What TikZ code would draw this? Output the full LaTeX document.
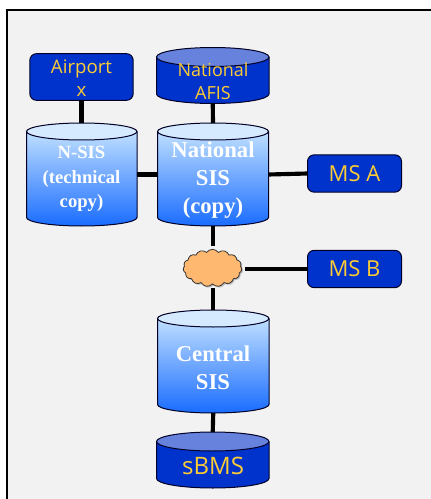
\documentclass[tikz,border=0pt]{standalone}
\usepackage{fontspec}
\setmainfont{Liberation Serif}
\newfontfamily\lab{Open Sans}
\usetikzlibrary{shapes.symbols,shadows}
\definecolor{panel}{HTML}{F2F2F2}
\definecolor{deep}{HTML}{0033CC}
\definecolor{deeptop}{HTML}{6682DC}
\definecolor{gold}{HTML}{FFCC33}
\definecolor{lighttop}{HTML}{D6EAFF}
\definecolor{gradtop}{HTML}{BFDFFF}
\definecolor{gradbot}{HTML}{1A6CFF}
\definecolor{puff}{HTML}{FFB870}
\tikzset{
  x=0.75pt,y=-0.75pt,
  link/.style={draw=black,line width=3.1pt},
  cylline/.style={draw=black!85!blue,line width=0.75pt},
  anchorbox/.style={inner sep=0pt,outer sep=0pt,minimum width=#1*0.75pt},
  blue box/.style={draw=black!85!blue,line width=0.75pt,fill=deep,rounded corners=5pt,inner sep=0pt,outer sep=0pt,text=gold,align=center,font=\lab},
  light text/.style={text=white,font=\bfseries,align=center,inner sep=0pt},
  dark text/.style={text=gold,font=\lab,align=center,inner sep=0pt},
}
% #1 name, #2 x-left, #3 x-right, #4 y-top of ellipse, #5 y-bottom end, #6 half ellipse height, #7 body style, #8 top colour
\newcommand{\cylinder}[8]{%
  \pgfmathsetmacro{\xm}{(#2+#3)/2}%
  \pgfmathsetmacro{\ys}{#4+#6}%
  \pgfmathsetmacro{\yb}{#5-#6}%
  \pgfmathsetmacro{\kx}{(#3-#2)/2*0.5523}%
  \pgfmathsetmacro{\ky}{#6*0.5523}%
  \path[#7] (#2,\ys) -- (#2,\yb)
    .. controls (#2,\yb+\ky) and (\xm-\kx,#5) .. (\xm,#5)
    .. controls (\xm+\kx,#5) and (#3,\yb+\ky) .. (#3,\yb)
    -- (#3,\ys) -- cycle;
  \draw[cylline] (#2,\ys) -- (#2,\yb)
    .. controls (#2,\yb+\ky) and (\xm-\kx,#5) .. (\xm,#5)
    .. controls (\xm+\kx,#5) and (#3,\yb+\ky) .. (#3,\yb)
    -- (#3,\ys);
  \draw[cylline,fill=#8] (#2,\ys)
    .. controls (#2,\ys-\ky) and (\xm-\kx,#4) .. (\xm,#4)
    .. controls (\xm+\kx,#4) and (#3,\ys-\ky) .. (#3,\ys)
    .. controls (#3,\ys+\ky) and (\xm+\kx,\ys+#6) .. (\xm,\ys+#6)
    .. controls (\xm-\kx,\ys+#6) and (#2,\ys+\ky) .. (#2,\ys) -- cycle;
  \pgfmathsetmacro{\w}{#3-#2}%
  \pgfmathsetmacro{\h}{#5-#4}%
  \pgfmathsetmacro{\ym}{(#4+#5)/2}%
  \node[inner sep=0pt,outer sep=0pt,minimum width=\w*0.75pt,minimum height=\h*0.75pt] (#1) at (\xm,\ym) {};%
}
\begin{document}
\begin{tikzpicture}
\useasboundingbox (0,0) rectangle (431,499);
\fill[white] (0,0) rectangle (431,499);
\draw[fill=panel,line width=0.8pt] (7,10) rectangle (440,510);

\tikzset{softbody/.style={top color=gradtop,bottom color=gradbot,middle color=gradtop!50!gradbot}}
\cylinder{nsis}{26.5}{137}{123}{226}{8.5}{softbody}{lighttop}
\cylinder{natsis}{157.5}{268.5}{123}{226}{8.5}{softbody}{lighttop}
\cylinder{censis}{157.5}{269}{310}{413}{8.5}{softbody}{lighttop}
\cylinder{afis}{156.5}{269}{47.5}{103.5}{9.5}{fill=deep}{deeptop}
\cylinder{sbms}{156.5}{269}{432}{488}{9.5}{fill=deep}{deeptop}

\node[blue box,minimum width=77.5pt,minimum height=35pt] (airport) at (81.5,77) {};
\node[blue box,minimum width=70.5pt,minimum height=28pt,font=\lab\fontsize{16.5}{20}\selectfont] (msa) at (354.5,173.5) {MS A};
\node[blue box,minimum width=70.5pt,minimum height=28pt,font=\lab\fontsize{16.5}{20}\selectfont] (msb) at (354.5,269) {MS B};

\node[cloud,cloud puffs=15,cloud puff arc=110,aspect=1.55,draw=black!80,line width=0.6pt,fill=puff,
  inner sep=0pt,outer sep=2.4pt,minimum width=44pt,minimum height=28pt,
  drop shadow={shadow xshift=1pt,shadow yshift=-1pt,fill=black!45}] (cloudnet) at (212.5,268) {};

\node[dark text,font=\lab\fontsize{14}{17}\selectfont] (airporttext) at (81.5,78) {Airport\\x};
\node[dark text,font=\lab\fontsize{13.5}{17}\selectfont] (afistext) at (213,81.5) {National\\AFIS};
\node[dark text,font=\lab\fontsize{18}{20}\selectfont] (sbmstext) at (213,466) {sBMS};
\node[light text,font=\bfseries\fontsize{14}{18.2}\selectfont] (nsistext) at (81.5,179) {N-SIS\\(technical\\copy)};
\node[light text,font=\bfseries\fontsize{17}{21}\selectfont] (natsistext) at (213,180) {National\\SIS\\(copy)};
\node[light text,font=\bfseries\fontsize{17}{21}\selectfont] (centext) at (213,367.5) {Central\\SIS};

\draw[link] (airport.south) -- (airport.south |- nsis.north);
\draw[link] (afis.south) -- (natsis.north);
\draw[link] (nsis.east) -- (natsis.west);
\draw[link] (natsis.east) -- (msa.west);
\draw[link] (natsis.south) -- (natsis.south |- cloudnet.north);
\draw[link] (cloudnet.south -| censis.north) -- (censis.north);
\draw[link] (cloudnet.east |- msb.west) -- (msb.west);
\draw[link] (censis.south) -- (sbms.north);
\end{tikzpicture}
\end{document}
